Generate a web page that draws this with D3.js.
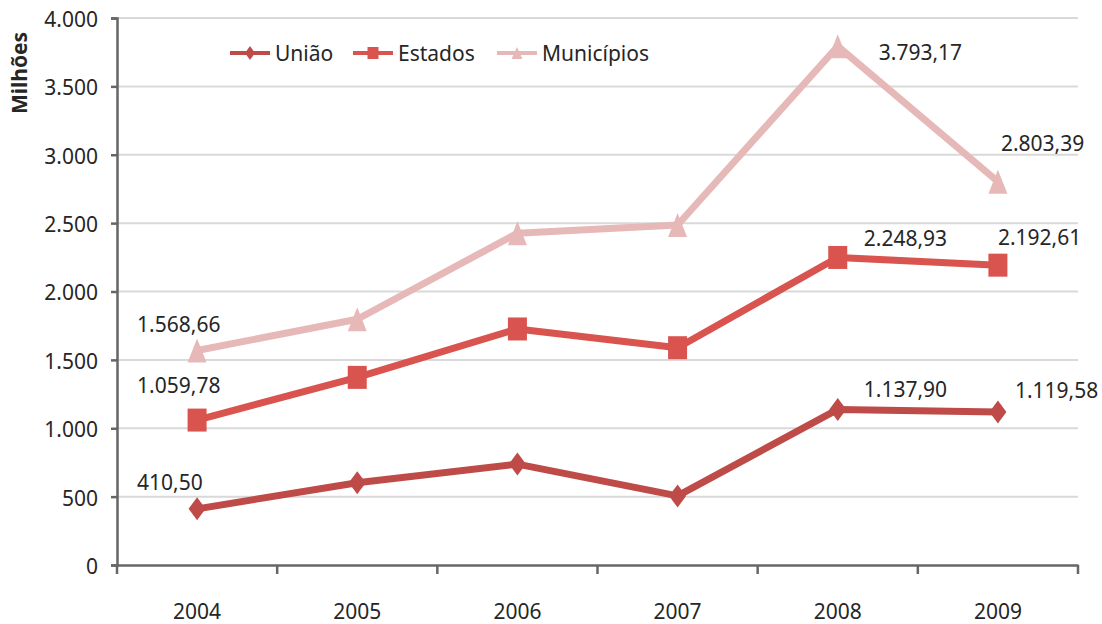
<!DOCTYPE html>
<html>
<head>
<meta charset="utf-8">
<script src="https://cdn.jsdelivr.net/npm/d3@7"></script>
<style>
  html, body { margin: 0; padding: 0; background: #fff; }
  svg { display: block; font-family: "Noto Sans", "Open Sans", sans-serif; }
</style>
</head>
<body>
<svg id="chart" width="1102" height="624"></svg>
<script>
// Transferências por esfera de governo (R$ milhões)
const years = ["2004", "2005", "2006", "2007", "2008", "2009"];
const uniao = [410.50, 602, 738, 505, 1137.90, 1119.58];
const estados = [1059.78, 1372, 1726, 1589, 2248.93, 2192.61];
const municipios = [1568.66, 1797, 2426, 2486, 3793.17, 2803.39];
const yTicks = [0, 500, 1000, 1500, 2000, 2500, 3000, 3500, 4000];
const seriesNames = ["União", "Estados", "Municípios"];
// which points carry a value label
const labelledIdx = [0, 4, 5];

const ptBR = d3.formatLocale({ decimal: ",", thousands: ".", grouping: [3], currency: ["R$", ""] });
const fmtTick = ptBR.format(",.0f");
const fmtVal = ptBR.format(",.2f");

const svg = d3.select("#chart");
const plot = { left: 117, right: 1078, top: 18, bottom: 565 };

const x = d3.scaleBand().domain(years).range([plot.left, plot.right]).padding(0);
const y = d3.scaleLinear().domain([0, 4000]).range([plot.bottom, plot.top]);
const cx = d => x(d) + x.bandwidth() / 2;

// gridlines
svg.append("g")
  .selectAll("line")
  .data(yTicks.filter(t => t > 0))
  .join("line")
  .attr("x1", plot.left).attr("x2", plot.right)
  .attr("y1", d => y(d)).attr("y2", d => y(d))
  .attr("stroke", "#d9d9d9").attr("stroke-width", 2);

// y axis
const yAxis = svg.append("g")
  .attr("transform", `translate(${plot.left},0)`)
  .call(d3.axisLeft(y).tickValues(yTicks).tickFormat(fmtTick).tickSize(6).tickPadding(13));
yAxis.select(".domain").attr("stroke", "#666").attr("stroke-width", 2.5);
yAxis.selectAll(".tick line").attr("stroke", "#666").attr("stroke-width", 2.5);
yAxis.selectAll(".tick text")
  .attr("font-size", 21).attr("fill", "#262626")
  .attr("font-family", "Noto Sans").attr("dy", "0.4em");

// x axis: labels at band centres, tick marks at band edges
const xAxis = svg.append("g")
  .attr("transform", `translate(0,${plot.bottom})`)
  .call(d3.axisBottom(x).tickSize(0).tickPadding(39));
xAxis.select(".domain").attr("stroke", "#666").attr("stroke-width", 2.5);
xAxis.selectAll(".tick text")
  .attr("font-size", 21).attr("fill", "#262626").attr("font-family", "Noto Sans");
xAxis.append("g")
  .selectAll("line")
  .data(years.map(d => x(d)).concat([plot.right]))
  .join("line")
  .attr("x1", d => d).attr("x2", d => d)
  .attr("y1", 0).attr("y2", 9)
  .attr("stroke", "#666").attr("stroke-width", 2.5);

// axis title
svg.append("text")
  .attr("transform", "translate(27,73) rotate(-90)")
  .attr("text-anchor", "middle")
  .attr("font-size", 21).attr("font-weight", "bold").attr("fill", "#262626")
  .text("Milhões");

// marker shapes (w x h boxes centred on the point)
const markers = {
  diamond: (w, h) => `M0,${-h / 2}L${w / 2},0L0,${h / 2}L${-w / 2},0Z`,
  square: (w, h) => `M${-w / 2},${-h / 2}H${w / 2}V${h / 2}H${-w / 2}Z`,
  triangle: (w, h) => `M0,${-h / 2}L${w / 2},${h / 2}H${-w / 2}Z`
};

const series = [
  { name: seriesNames[0], values: uniao, color: "#be4b48", shape: "diamond", mw: 17, mh: 23,
    offs: [[-60, -19], null, null, null, [26, -12], [17, -14]] },
  { name: seriesNames[1], values: estados, color: "#d9534f", shape: "square", mw: 19, mh: 23,
    offs: [[-60, -27], null, null, null, [26, -11], [0, -20]] },
  { name: seriesNames[2], values: municipios, color: "#e6b9b8", shape: "triangle", mw: 19, mh: 24,
    offs: [[-60, -18], null, null, null, [41, 14], [3, -31]] }
];

const line = d3.line().x((d, i) => cx(years[i])).y(d => y(d));

series.forEach(s => {
  const g = svg.append("g");
  g.append("path")
    .datum(s.values)
    .attr("d", line)
    .attr("fill", "none")
    .attr("stroke", s.color)
    .attr("stroke-width", 7)
    .attr("stroke-linejoin", "round");
  g.selectAll("path.marker")
    .data(s.values)
    .join("path")
    .attr("class", "marker")
    .attr("transform", (d, i) => `translate(${cx(years[i])},${y(d)})`)
    .attr("d", markers[s.shape](s.mw, s.mh))
    .attr("fill", s.color);
  g.selectAll("text.val")
    .data(labelledIdx)
    .join("text")
    .attr("class", "val")
    .attr("x", i => cx(years[i]) + s.offs[i][0])
    .attr("y", i => y(s.values[i]) + s.offs[i][1])
    .attr("font-size", 21).attr("fill", "#262626")
    .text(i => fmtVal(s.values[i]));
});

// legend
const legendX = [230, 353, 497];
const legend = svg.append("g").selectAll("g")
  .data(series)
  .join("g")
  .attr("transform", (d, i) => `translate(${legendX[i]},53)`);
legend.append("line")
  .attr("x1", 0).attr("x2", 40)
  .attr("stroke", d => d.color).attr("stroke-width", 4);
legend.append("path")
  .attr("transform", "translate(20,0)")
  .attr("d", d => markers[d.shape](d.shape === "diamond" ? 10 : 11, d.shape === "diamond" ? 14 : 12))
  .attr("fill", d => d.color);
legend.append("text")
  .attr("x", 45).attr("dy", "0.36em")
  .attr("font-size", 21).attr("fill", "#262626")
  .text(d => d.name);
</script>
</body>
</html>
